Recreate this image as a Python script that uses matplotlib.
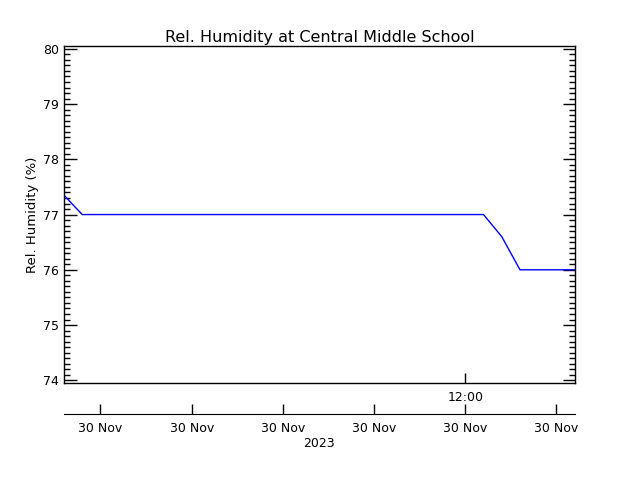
import matplotlib
matplotlib.use("Agg")
import matplotlib.pyplot as plt
import matplotlib.dates as mdates
from datetime import datetime

# readings (time of day on 30 Nov 2023, rel. humidity in %)
times = ["03:12", "03:36", "12:24", "12:48", "13:12", "14:24"]
humidity = [77.35, 77.0, 77.0, 76.6, 76.0, 76.0]

tick_times = ["04:00", "06:00", "08:00", "10:00", "12:00", "14:00"]
tick_label = "30 Nov"
year_label = "2023"

day = "2023-11-30 "
t = [datetime.strptime(day + s, "%Y-%m-%d %H:%M") for s in times]
ticks = [datetime.strptime(day + s, "%Y-%m-%d %H:%M") for s in tick_times]
xlim = (t[0], t[-1])

plt.rcParams['font.family'] = ['DejaVu Sans']
fig = plt.figure(figsize=(6.4, 4.8), dpi=100)

ax = fig.add_axes([0.1, 0.202, 0.798, 0.702])
ax.plot(t, humidity, color='#0000ff', linewidth=1)
ax.set_xlim(xlim)
ax.set_ylim(73.95, 80.05)
ax.set_yticks([74, 75, 76, 77, 78, 79, 80])
ax.yaxis.set_minor_locator(matplotlib.ticker.MultipleLocator(0.1))
ax.tick_params(axis='y', which='major', direction='in', length=9, width=1,
               left=True, right=True, labelsize=9)
ax.tick_params(axis='y', which='minor', direction='in', length=4, width=1,
               left=True, right=True)
# only the 12:00 tick on the main axis
ax.set_xticks([ticks[4]])
ax.set_xticklabels(["12:00"])
ax.tick_params(axis='x', direction='in', length=7, width=1, labelsize=9, pad=6)
ax.set_ylabel("Rel. Humidity (%)", fontsize=9.5, labelpad=3)
ax.set_title("Rel. Humidity at Central Middle School", fontsize=11.5, pad=3)
for sp in ax.spines.values():
    sp.set_linewidth(1)

# second date axis below
ax2 = fig.add_axes([0.1, 0.1375, 0.798, 0.0001])
ax2.set_xlim(xlim)
ax2.set_yticks([])
for side in ['top', 'left', 'right']:
    ax2.spines[side].set_visible(False)
ax2.patch.set_visible(False)
ax2.set_xticks(ticks)
ax2.set_xticklabels([tick_label] * len(ticks))
ax2.tick_params(axis='x', direction='in', length=7, width=1, labelsize=9, pad=6)
ax2.set_xlabel(year_label, fontsize=9, labelpad=1)

fig.savefig("out.png", dpi=100)
